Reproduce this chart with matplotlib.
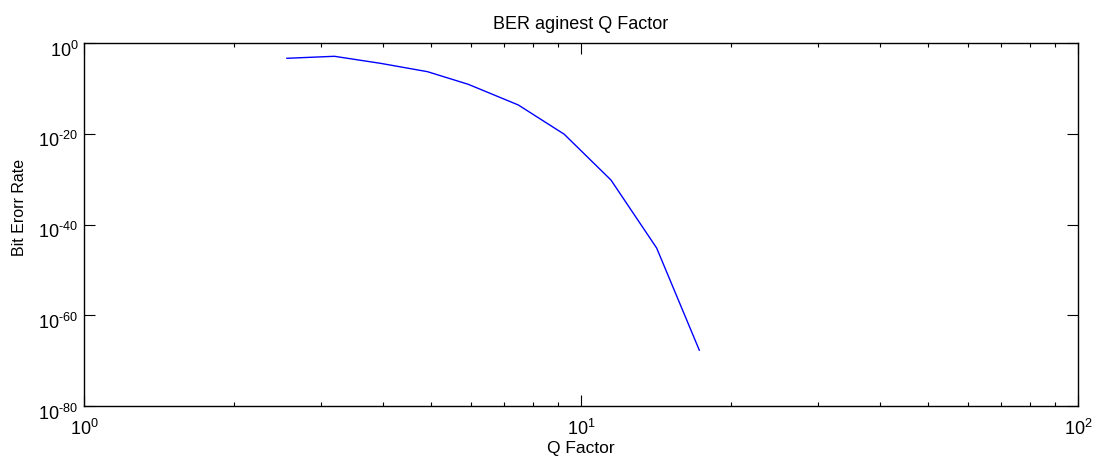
import numpy as np
import matplotlib
matplotlib.use('Agg')
import matplotlib.pyplot as plt
import matplotlib.transforms as mtrans
from matplotlib.ticker import LogLocator, NullLocator, FixedLocator

plt.rcParams['font.family'] = ['Liberation Sans', 'DejaVu Sans']
plt.rcParams['mathtext.fontset'] = 'custom'
plt.rcParams['mathtext.rm'] = 'Liberation Sans'
plt.rcParams['mathtext.it'] = 'Liberation Sans:italic'
plt.rcParams['mathtext.default'] = 'regular'

# Q factor vs BER values
q_factor = [2.56, 3.19, 3.95, 4.91, 5.93, 7.48, 9.25, 11.49, 14.2, 17.3]
ber_exp = [-3.37, -2.93, -4.48, -6.32, -9.10, -13.66, -20.1, -30.2, -45.2, -67.7]
ber = [10.0 ** e for e in ber_exp]

x_ticks = [1, 10, 100]
x_labels = ['$10^{0}$', '$10^{1}$', '$10^{2}$']
y_ticks = [1e-80, 1e-60, 1e-40, 1e-20, 1e0]
y_labels = [r'$10^{\text{-80}}$', r'$10^{\text{-60}}$', r'$10^{\text{-40}}$',
            r'$10^{\text{-20}}$', '$10^{0}$']

fig = plt.figure(figsize=(10.94, 4.66), dpi=100)
ax = fig.add_axes([84/1094, 1-406/466, (1078-84)/1094, (406-43)/466])

ax.loglog(q_factor, ber, color='#0000ff', lw=1.0)
ax.set_xlim(1, 100)
ax.set_ylim(1e-80, 1e0)

ax.xaxis.set_major_locator(FixedLocator(x_ticks))
ax.yaxis.set_major_locator(FixedLocator(y_ticks))
ax.xaxis.set_minor_locator(LogLocator(base=10, subs=np.arange(2, 10)))
ax.yaxis.set_minor_locator(NullLocator())
ax.set_xticklabels(x_labels)
ax.set_yticklabels(y_labels)

ax.tick_params(which='both', direction='in', top=True, right=True,
               labelsize=13, color='black', width=0.8)
ax.tick_params(which='major', length=8)
ax.tick_params(axis='x', which='major', pad=9)
ax.tick_params(axis='y', which='major', pad=4)
ax.tick_params(which='minor', length=3)
for s in ax.spines.values():
    s.set_linewidth(1.0)

# shift y tick labels so the "10" sits on the tick, exponent above
off = mtrans.ScaledTranslation(0, -4/72, fig.dpi_scale_trans)
for lab in ax.get_yticklabels():
    lab.set_transform(lab.get_transform() + off)

ax.set_title('BER aginest Q Factor', fontsize=13, pad=10)
ax.set_xlabel('Q Factor', fontsize=12.5, labelpad=2)
ax.set_ylabel('Bit Erorr Rate', fontsize=11.5)
ax.yaxis.set_label_coords(-0.057, 0.548)

fig.savefig('out.png', dpi=100)
